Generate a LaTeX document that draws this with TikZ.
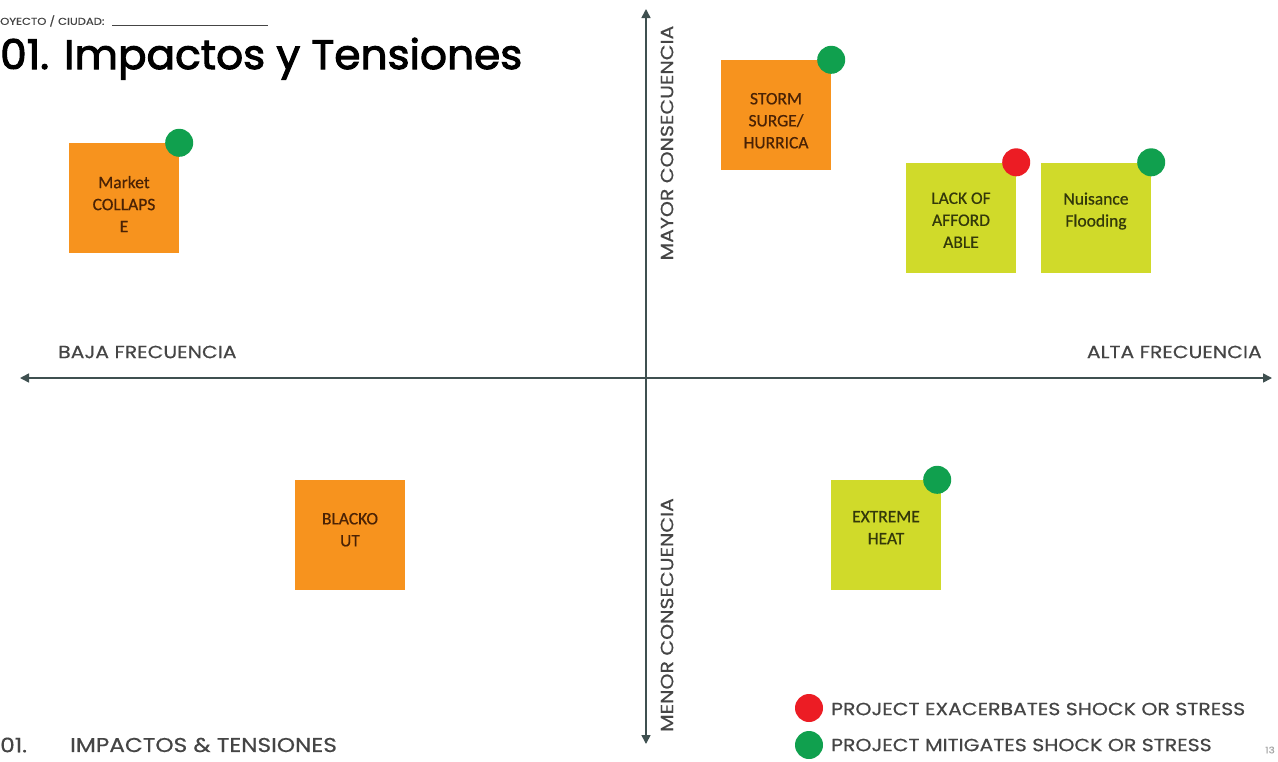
\documentclass[tikz,border=0pt]{standalone}
\usepackage{fontspec}
\setmainfont{Poppins}[FakeStretch=1.16,FakeBold=0.5]
\newfontfamily\titlefont{Poppins}[FakeStretch=1.03,FakeBold=2.5]
\newfontfamily\boxfont{Carlito}[FakeBold=0.6]
\usetikzlibrary{arrows.meta,calc}
\definecolor{orangebox}{HTML}{F7931E}
\definecolor{limebox}{HTML}{D0DA2A}
\definecolor{dotgreen}{HTML}{10A04E}
\definecolor{dotred}{HTML}{EC1C24}
\definecolor{axiscol}{HTML}{3F5050}
\definecolor{labcol}{HTML}{454545}
\definecolor{orangetext}{HTML}{4A2205}
\definecolor{limetext}{HTML}{33380A}
\tikzset{
  stickybox/.style={minimum width=110pt,minimum height=110pt,inner sep=0pt,draw=none},
  orangestick/.style={stickybox,fill=orangebox},
  limestick/.style={stickybox,fill=limebox},
  boxtext/.style={anchor=north,inner sep=0pt,align=center,font=\boxfont\fontsize{17.5}{22}\selectfont},
  dotg/.style={circle,fill=dotgreen,minimum size=28pt,inner sep=0pt},
  dotr/.style={circle,fill=dotred,minimum size=28pt,inner sep=0pt},
  axislabel/.style={inner sep=0pt,text=labcol,font=\fontsize{17.6}{19}\selectfont},
  axisline/.style={draw=axiscol,line width=1.6pt,{Triangle[width=9pt,length=9pt]}-{Triangle[width=9pt,length=9pt]}},
  legendtext/.style={anchor=west,inner sep=0pt,text=labcol,font=\fontsize{17.6}{19}\selectfont}
}
\begin{document}
\begin{tikzpicture}[x=1pt,y=-1pt]
\useasboundingbox (0,0) rectangle (1278,761);
\fill[white] (0,0) rectangle (1278,761);

% header
\node[anchor=west,inner sep=0pt,text=labcol,font=\fontsize{10}{11}\selectfont] (proj) at (0,21) {OYECTO / CIUDAD:};
\coordinate (lineA) at (112,25);
\coordinate (lineB) at (268,25);
\draw[draw=labcol,line width=0.8pt] (lineA) -- (lineB);
\node[anchor=base west,inner sep=0pt,text=black,font=\titlefont\fontsize{41}{46}\selectfont] (title) at (0,69) {01. Impactos y Tensiones};

% axes
\coordinate (W) at (20,378);
\coordinate (E) at (1272,378);
\coordinate (N) at (646,9);
\coordinate (S) at (646,744);
\draw[axisline] (W) -- (E);
\draw[axisline] (S) -- (N);

\node[axislabel,anchor=west] (baja) at (58,352) {BAJA FRECUENCIA};
\node[axislabel,anchor=east] (alta) at (1262,352) {ALTA FRECUENCIA};
\node[axislabel,rotate=90] (mayor) at (667,143) {MAYOR CONSECUENCIA};
\node[axislabel,rotate=90] (menor) at (667,615) {MENOR CONSECUENCIA};

% boxes
\node[orangestick] (market) at (124,198) {};
\node[boxtext,text=orangetext] (markett) at ($(market.north)+(0,33)$) {Market\\COLLAPS\\E};
\node[dotg] (marketd) at (market.north east) {};

\node[orangestick] (storm) at (776,115) {};
\node[boxtext,text=orangetext] (stormt) at ($(storm.north)+(0,33)$) {STORM\\SURGE/\\HURRICA};
\node[dotg] (stormd) at (storm.north east) {};

\node[limestick] (lack) at (961,217.5) {};
\node[boxtext,text=limetext] (lackt) at ($(lack.north)+(0,30)$) {LACK OF\\AFFORD\\ABLE};
\node[dotr] (lackd) at (lack.north east) {};

\node[limestick] (nuis) at (1096,217.5) {};
\node[boxtext,text=limetext] (nuist) at ($(nuis.north)+(0,30)$) {Nuisance\\Flooding};
\node[dotg] (nuisd) at (nuis.north east) {};

\node[orangestick] (black) at (350,535) {};
\node[boxtext,text=orangetext] (blackt) at ($(black.north)+(0,33)$) {BLACKO\\UT};

\node[limestick] (heat) at (886,535) {};
\node[boxtext,text=limetext] (heatt) at ($(heat.north)+(0,31)$) {EXTREME\\HEAT};
\node[dotg] (heatd) at ($(heat.north east)+(-4,0)$) {};

% legend
\node[dotr] (legr) at (809,708) {};
\node[legendtext] (legrt) at (831,709) {PROJECT EXACERBATES SHOCK OR STRESS};
\node[dotg] (legg) at (809,745) {};
\node[legendtext] (leggt) at (831,745) {PROJECT MITIGATES SHOCK OR STRESS};

% footer
\node[anchor=west,inner sep=0pt,text=labcol,font=\fontsize{20}{22}\selectfont] (fnum) at (0,745) {01.};
\node[anchor=west,inner sep=0pt,text=labcol,font=\fontsize{20}{22}\selectfont] (ftitle) at (70,745) {IMPACTOS \& TENSIONES};
\node[inner sep=0pt,text=gray!70,font=\fontsize{9}{10}\selectfont] (page) at (1270,750) {13};
\end{tikzpicture}
\end{document}
